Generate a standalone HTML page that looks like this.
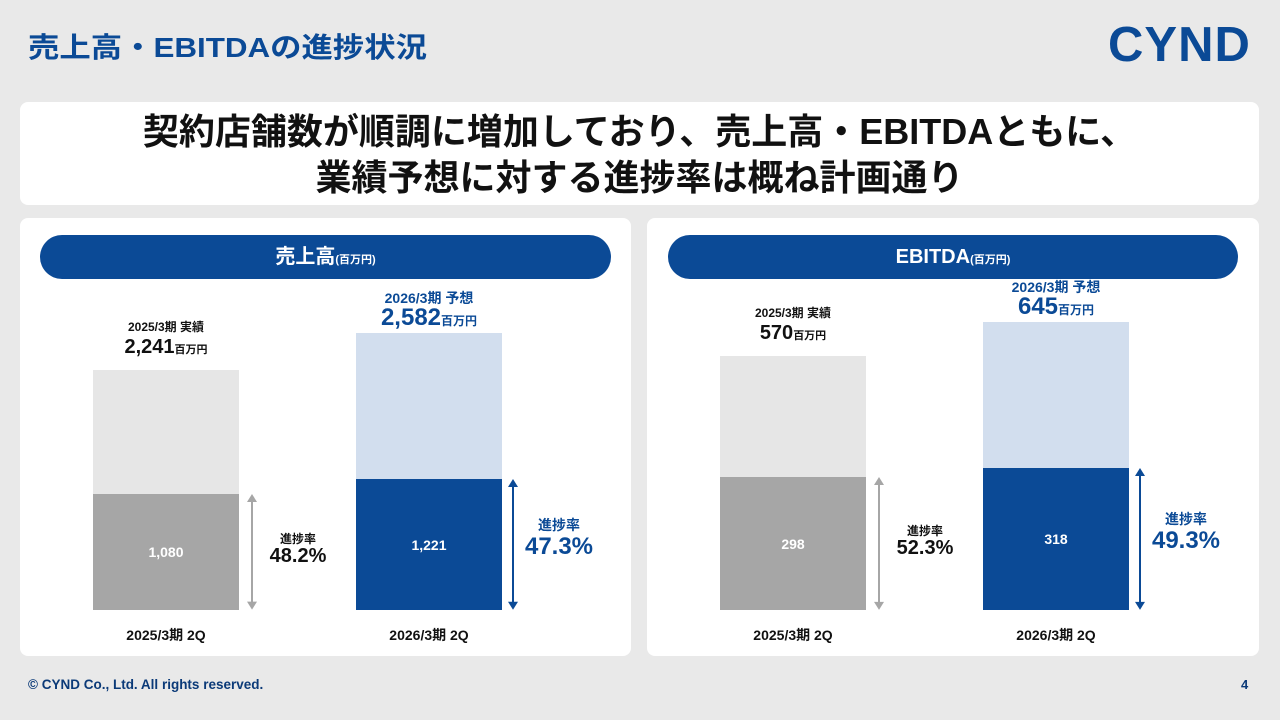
<!DOCTYPE html>
<html><head><meta charset="utf-8">
<style>
*{margin:0;padding:0;box-sizing:border-box}
body{width:1280px;height:720px;background:#e9e9e9;font-family:"Liberation Sans","Noto Sans CJK JP",sans-serif;position:relative;overflow:hidden;font-weight:bold}
.abs{position:absolute}
.panel{position:absolute;background:#fff;border-radius:8px}
.pill{position:absolute;background:#0b4a96;border-radius:22px;color:#fff;text-align:center;font-size:20px;line-height:44px}
.pill small{font-size:11px}
</style></head><body>
<div class="abs" style="left:28px;top:26px;font-size:28px;color:#0b4a96;white-space:nowrap;transform:scaleX(1.12);transform-origin:left center">売上高・EBITDAの進捗状況</div>
<div class="abs" style="left:1108px;top:17px;font-size:49px;color:#0b4a96;letter-spacing:1px;font-weight:900">CYND</div>
<div class="panel" style="left:20px;top:102px;width:1239px;height:103px;text-align:center;font-size:36px;line-height:46px;padding-top:7px;color:#111;white-space:nowrap">契約店舗数が順調に増加しており、売上高・EBITDAともに、<br>業績予想に対する進捗率は概ね計画通り</div>
<div class="panel" style="left:20px;top:218px;width:611px;height:438px"></div>
<div class="panel" style="left:647px;top:218px;width:612px;height:438px"></div>
<div class="pill" style="left:40px;top:235px;width:571px;height:44px">売上高<small>(百万円)</small></div>
<div class="pill" style="left:668px;top:235px;width:570px;height:44px">EBITDA<small>(百万円)</small></div>
<div id="charts"></div>
<div class="abs" style="left:28px;top:677px;font-size:13.5px;color:#0b3a78">© CYND Co., Ltd. All rights reserved.</div>
<div class="abs" style="left:1241px;top:677px;font-size:13px;color:#0b3a78">4</div>
<script>
const salesTotals=[2241,2582];
const salesQ2=[1080,1221];
const salesRates=["48.2%","47.3%"];
const ebitdaTotals=[570,645];
const ebitdaQ2=[298,318];
const ebitdaRates=["52.3%","49.3%"];
const periodLabels=["2025/3期 2Q","2026/3期 2Q"];
const topLabels=["2025/3期 実績","2026/3期 予想"];

const root=document.getElementById('charts');
function mk(name,css,html){const d=document.createElement('div');


d.style.cssText='position:absolute;'+css;if(html!==undefined)d.innerHTML=html;root.appendChild(d);return d;}
function fmt(v){return v.toLocaleString('en-US');}
function chart(prefix,totals,q2,rates,xs,scale){
 const base=610,w=146;
 const y=v=>base-v*scale;
 for(let i=0;i<2;i++){
  const x=xs[i],blue=i===1;
  const light=blue?'#d2deee':'#e6e6e6',dark=blue?'#0b4a96':'#a6a6a6';
  mk(prefix+'-total-bar-'+i,`left:${x}px;top:${y(totals[i])}px;width:${w}px;height:${totals[i]*scale}px;background:${light}`);
  mk(prefix+'-q2-bar-'+i,`left:${x}px;top:${y(q2[i])}px;width:${w}px;height:${q2[i]*scale}px;background:${dark};color:#fff;font-size:14px;display:flex;align-items:center;justify-content:center`,fmt(q2[i]));
  const cx=x+w/2, col=blue?'#0b4a96':'#111';
  const ty=y(totals[i]);
  mk(prefix+'-period-label-'+i,`left:${cx}px;top:${blue?ty-45:ty-52}px;transform:translateX(-50%);white-space:nowrap;text-align:center;color:${col};font-size:${blue?14:12}px`,topLabels[i]);
  mk(prefix+'-total-value-'+i,`left:${cx}px;top:${blue?ty-29:ty-34}px;transform:translateX(-50%);white-space:nowrap;color:${col};font-size:${blue?24:20}px`,fmt(totals[i])+`<span style="font-size:${blue?12:11}px">百万円</span>`);
  mk(prefix+'-x-label-'+i,`left:${cx}px;top:625px;transform:translateX(-50%);white-space:nowrap;font-size:14px;color:#111`,periodLabels[i]);
  const ax=x+w+(blue?11:13), a1=y(q2[i]), ac=blue?'#0b4a96':'#a6a6a6';
  const s=document.createElementNS('http://www.w3.org/2000/svg','svg');
  
  
  s.setAttribute('width',12);s.setAttribute('height',base-a1);
  s.style.cssText=`position:absolute;left:${ax-6}px;top:${a1}px`;
  const h=base-a1;
  s.innerHTML=`<line x1="6" y1="3" x2="6" y2="${h-3}" stroke="${ac}" stroke-width="2"/><path d="M1 8 L6 0 L11 8Z" fill="${ac}"/><path d="M1 ${h-8} L6 ${h} L11 ${h-8}Z" fill="${ac}"/>`;
  root.appendChild(s);
  const mid=(a1+base)/2;
  mk(prefix+'-rate-caption-'+i,`left:${ax+46}px;top:${mid-(blue?30:22)}px;transform:translateX(-50%);white-space:nowrap;font-size:${blue?14:12}px;color:${col}`,'進捗率');
  mk(prefix+'-rate-value-'+i,`left:${ax+46}px;top:${mid-(blue?12:7)}px;transform:translateX(-50%);white-space:nowrap;font-size:${blue?24:20}px;color:${col};font-weight:bold`,rates[i]);
 }
}
chart('sales',salesTotals,salesQ2,salesRates,[93,356],0.1071);
chart('ebitda',ebitdaTotals,ebitdaQ2,ebitdaRates,[720,983],0.446);
</script>
</body></html>
